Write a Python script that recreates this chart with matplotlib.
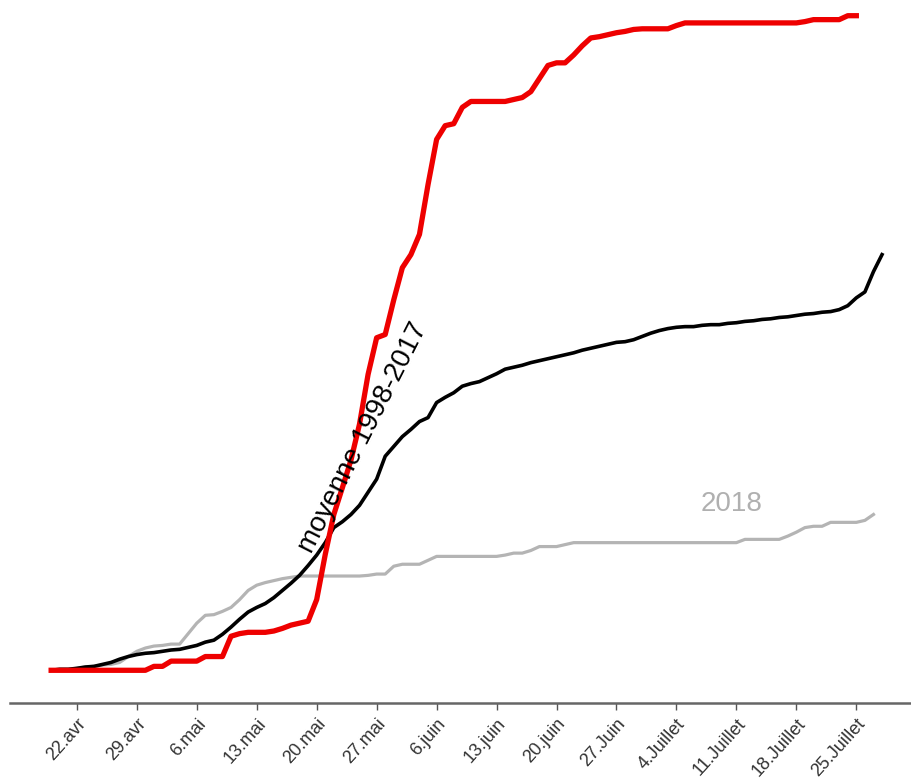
import matplotlib.pyplot as plt
import numpy as np

plt.rcParams['font.family'] = ['Liberation Sans', 'DejaVu Sans']

# days counted from 22 avril (day 0)
tick_labels = ["22.avr", "29.avr", "6.mai", "13.mai", "20.mai", "27.mai", "6.juin",
               "13.juin", "20.juin", "27.Juin", "4.Juillet", "11.Juillet", "18.Juillet", "25.Juillet"]

# cumulative share (%), one value per day, starting 3 days before 22.avr
red_2019 = [0, 0, 0, 0, 0, 0, 0, 0, 0, 0, 0, 0,
            0.6, 0.6, 1.4, 1.4, 1.4, 1.4, 2.1, 2.1, 2.1, 5.2, 5.6, 5.8, 5.8, 5.8, 6.0, 6.4,
            6.9, 7.2, 7.5, 10.8, 17.7, 23.8, 27.9, 32.1, 37.6, 45.2, 50.8, 51.3, 56.6, 61.5,
            63.5, 66.6, 74.2, 81.1, 83.2, 83.5, 86.0, 86.9, 86.9, 86.9, 86.9, 86.9, 87.2, 87.5,
            88.4, 90.4, 92.4, 92.8, 92.8, 94.0, 95.4, 96.6, 96.8, 97.1, 97.4, 97.6, 97.9, 98.0,
            98.0, 98.0, 98.0, 98.5, 98.9, 98.9, 98.9, 98.9, 98.9, 98.9, 98.9, 98.9, 98.9, 98.9,
            98.9, 98.9, 98.9, 98.9, 99.1, 99.4, 99.4, 99.4, 99.4, 100, 100]

moyenne = [0, 0.15, 0.15, 0.3, 0.5, 0.6, 0.9, 1.2, 1.7, 2.1, 2.4, 2.6, 2.7, 2.9, 3.1, 3.2,
           3.5, 3.8, 4.3, 4.6, 5.5, 6.6, 7.8, 8.9, 9.6, 10.2, 11.1, 12.2, 13.3, 14.5, 16.0,
           17.6, 19.5, 21.8, 22.7, 23.8, 25.2, 27.2, 29.2, 32.7, 34.2, 35.7, 36.8, 38.0, 38.6,
           40.9, 41.7, 42.4, 43.4, 43.8, 44.1, 44.7, 45.3, 46.0, 46.3, 46.6, 47.0, 47.3, 47.6,
           47.9, 48.2, 48.5, 48.9, 49.2, 49.5, 49.8, 50.1, 50.2, 50.5, 51.0, 51.5, 51.9, 52.2,
           52.4, 52.5, 52.5, 52.7, 52.8, 52.8, 53.0, 53.1, 53.3, 53.4, 53.6, 53.7, 53.9, 54.0,
           54.2, 54.4, 54.5, 54.7, 54.8, 55.1, 55.7, 56.9, 57.8, 60.9, 63.5]

gray_2018 = [0, 0.15, 0.15, 0.3, 0.5, 0.6, 0.8, 0.9, 1.2, 2.1, 2.9, 3.4, 3.7, 3.8, 4.0, 4.0,
             5.6, 7.2, 8.4, 8.5, 9.0, 9.6, 10.8, 12.2, 13.0, 13.4, 13.7, 14.0, 14.2, 14.4,
             14.4, 14.4, 14.4, 14.4, 14.4, 14.4, 14.4, 14.5, 14.7, 14.7, 15.9, 16.2, 16.2, 16.2,
             16.8, 17.4, 17.4, 17.4, 17.4, 17.4, 17.4, 17.4, 17.4, 17.6, 17.9, 17.9, 18.3, 18.9,
             18.9, 18.9, 19.2, 19.5, 19.5, 19.5, 19.5, 19.5, 19.5, 19.5, 19.5, 19.5, 19.5, 19.5,
             19.5, 19.5, 19.5, 19.5, 19.5, 19.5, 19.5, 19.5, 19.5, 20.0, 20.0, 20.0, 20.0, 20.0,
             20.5, 21.1, 21.8, 22.0, 22.0, 22.6, 22.6, 22.6, 22.6, 22.9, 23.8]

fig = plt.figure(figsize=(9.12, 7.82), dpi=100)
ax = fig.add_axes([0.011, 0.101, 0.989, 0.899])

ax.plot(np.arange(-3, -3 + len(gray_2018)), gray_2018, color="#b4b4b4", lw=2.3, zorder=2)
ax.plot(np.arange(-3, -3 + len(moyenne)), moyenne, color="black", lw=2.6, zorder=3)
ax.plot(np.arange(-3, -3 + len(red_2019)), red_2019, color="#ee0000", lw=3.8, zorder=4)

ax.text(33.4, 35.6, "moyenne 1998-2017", rotation=63, fontsize=20, color="black",
        ha="center", va="center", rotation_mode="anchor", zorder=5)
ax.text(76.4, 25.4, "2018", fontsize=20, color="#b0b0b0", ha="center", va="center")

ax.set_xlim(-7.8, 97.5)
ax.set_ylim(-5.0, 102.4)

ax.set_xticks(np.arange(0, 7 * len(tick_labels), 7))
ax.set_xticklabels(tick_labels, rotation=48, ha="right", va="top", rotation_mode="anchor",
                   fontsize=13, color="#333333")
ax.tick_params(axis="x", length=5, width=1, color="#555555", pad=4)
ax.set_yticks([])

for side in ["top", "right", "left"]:
    ax.spines[side].set_visible(False)
ax.spines["bottom"].set_color("#666666")
ax.spines["bottom"].set_linewidth(1.8)

fig.savefig("out.png", dpi=100)
